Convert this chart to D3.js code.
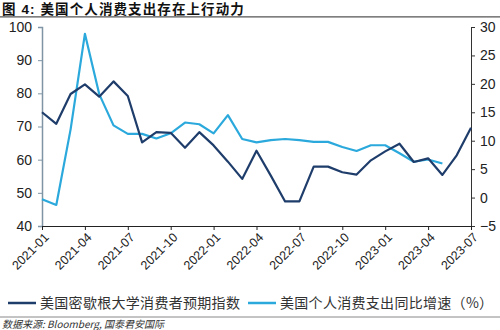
<!DOCTYPE html>
<html><head><meta charset="utf-8">
<script src="https://cdn.jsdelivr.net/npm/d3@7"></script>
<style>
html,body{margin:0;padding:0;background:#fff;}
svg{display:block;}
text{font-family:"Liberation Sans",Arial,sans-serif;}
.cjk{font-family:"Noto Sans CJK SC","Liberation Sans",sans-serif;}
.ttl{font-family:"Liberation Sans","Noto Sans CJK SC",sans-serif;}
</style></head>
<body>
<svg id="chart" width="500" height="330"></svg>
<script>
const months = ["2021-01","2021-02","2021-03","2021-04","2021-05","2021-06","2021-07","2021-08","2021-09","2021-10","2021-11","2021-12",
"2022-01","2022-02","2022-03","2022-04","2022-05","2022-06","2022-07","2022-08","2022-09","2022-10","2022-11","2022-12",
"2023-01","2023-02","2023-03","2023-04","2023-05","2023-06","2023-07"];
const michigan = [74.3,70.8,79.8,82.7,79.0,83.6,79.2,65.2,68.3,68.1,63.6,68.3,
64.3,59.4,54.2,62.7,55.2,47.4,47.4,57.9,57.9,56.2,55.5,59.8,
62.5,64.8,59.3,60.4,55.4,61.3,69.6];
const pce = [-0.3,-1.3,12.0,28.8,18.2,12.7,11.2,11.2,10.4,11.3,13.2,12.9,
11.3,14.5,10.3,9.7,10.1,10.3,10.1,9.8,9.8,8.9,8.2,9.2,
9.2,7.8,6.3,6.7,6.0];
const leftTicks = [40,50,60,70,80,90,100];
const rightTicks = [-5,0,5,10,15,20,25,30];
const xTickIdx = [0,3,6,9,12,15,18,21,24,27,30];
const titleText = "图 4:  美国个人消费支出存在上行动力";
const legendNames = ["美国密歇根大学消费者预期指数","美国个人消费支出同比增速（%）"];
const sourceText = "数据来源: Bloomberg, 国泰君安国际";

const svg = d3.select("#chart");
const L = 42, R = 471, T = 27, B = 226;
const x = d3.scaleLinear().domain([0, months.length-1]).range([L, R]);
const yL = d3.scaleLinear().domain([40,100]).range([B, T]);
const yR = d3.scaleLinear().domain([-5,30]).range([B, T]);
const dark = "#1f3d6b", light = "#2ba9dc";

// title
svg.append("text").attr("class","ttl").attr("x",2).attr("y",13.5)
  .attr("font-size",13.5).attr("font-weight","bold").attr("letter-spacing","1.1px")
  .attr("fill","#111").text(titleText);
svg.append("line").attr("x1",0).attr("x2",500).attr("y1",16.8).attr("y2",16.8)
  .attr("stroke","#555").attr("stroke-width",1.2);

// axes
const gL = svg.append("g").attr("transform",`translate(${L},0)`)
  .call(d3.axisLeft(yL).tickValues(leftTicks).tickSize(4).tickPadding(6));
gL.select(".domain").attr("stroke","#7f95a6").attr("stroke-width",1.5);
gL.selectAll(".tick line").attr("stroke","#7f95a6");
gL.selectAll("text").attr("font-size",14).attr("fill","#222").attr("font-family","Liberation Sans, Arial, sans-serif");

const gR = svg.append("g").attr("transform",`translate(${R},0)`)
  .call(d3.axisRight(yR).tickValues(rightTicks).tickSize(4).tickPadding(5));
gR.select(".domain").attr("stroke","#333");
gR.selectAll(".tick line").attr("stroke","#333");
gR.selectAll("text").attr("font-size",14).attr("fill","#222").attr("font-family","Liberation Sans, Arial, sans-serif");

const gB = svg.append("g").attr("transform",`translate(0,${B})`)
  .call(d3.axisBottom(x).tickValues(xTickIdx).tickFormat(i => months[i]).tickSize(4));
gB.select(".domain").attr("stroke","#222");
gB.selectAll(".tick line").attr("stroke","#222");
gB.selectAll("text").attr("font-size",12.5).attr("fill","#222")
  .attr("font-family","Liberation Sans, Arial, sans-serif")
  .attr("text-anchor","end").attr("transform","translate(4,9) rotate(-45)")
  .attr("dy","0.35em").attr("y",0).attr("x",0);

// lines
const lineL = d3.line().x((d,i)=>x(i)).y(d=>yL(d));
const lineR = d3.line().x((d,i)=>x(i)).y(d=>yR(d));
svg.append("path").datum(pce).attr("d",lineR).attr("fill","none")
  .attr("stroke",light).attr("stroke-width",2.2).attr("stroke-linejoin","round");
svg.append("path").datum(michigan).attr("d",lineL).attr("fill","none")
  .attr("stroke",dark).attr("stroke-width",2.2).attr("stroke-linejoin","round");

// legend
const ly = 303;
const leg = [{c:dark,x1:8,x2:36,tx:40,t:legendNames[0]},{c:light,x1:248,x2:276,tx:280,t:legendNames[1]}];
leg.forEach(l=>{
  svg.append("line").attr("x1",l.x1).attr("x2",l.x2).attr("y1",ly).attr("y2",ly)
    .attr("stroke",l.c).attr("stroke-width",2.5);
  svg.append("text").attr("class","cjk").attr("x",l.tx).attr("y",ly).attr("dy","0.35em")
    .attr("font-size",14).attr("letter-spacing","0.3px").attr("fill","#333").text(l.t);
});

// footer
svg.append("line").attr("x1",0).attr("x2",500).attr("y1",317).attr("y2",317)
  .attr("stroke","#888").attr("stroke-width",1);
svg.append("text").attr("class","cjk").attr("x",2).attr("y",327.5)
  .attr("font-size",10).attr("font-style","italic").attr("fill","#333").text(sourceText);
</script>
</body></html>
